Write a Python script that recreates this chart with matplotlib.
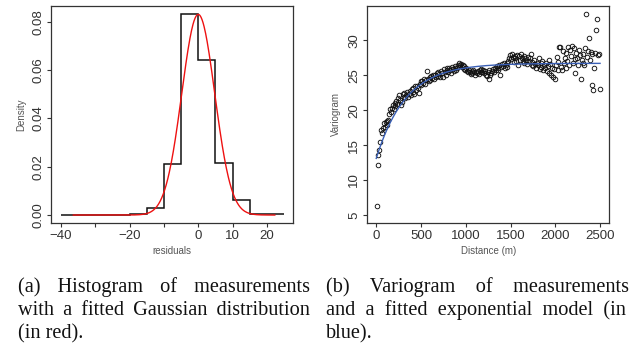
import numpy as np
import matplotlib.pyplot as plt

# --- (a) histogram of residuals, density per 5-unit bin ---
bin_edges = [-40, -35, -30, -25, -20, -15, -10, -5, 0, 5, 10, 15, 20, 25]
density = [0.0, 0.0, 0.0, 0.0, 0.0004, 0.0028, 0.0212, 0.0832,
           0.0642, 0.0215, 0.0062, 0.0003, 0.0003]

# fitted gaussian (red)
gauss_mean = 0.0
gauss_sd = 4.8
gauss_span = (-36.4, 22.3)

# --- (b) empirical variogram, one value per 10 m lag (rows of 100 m) ---
lag_step = 10
vario_rows = [
    [6.3, 12.1, 13.6, 14.3, 15.5, 17.2, 16.8, 17.4, 18.2, 17.6],
    [18.3, 18.5, 17.9, 18.6, 19.4, 20.1, 19.8, 20.3, 20.8, 20.2],
    [21.0, 20.6, 21.3, 20.9, 21.8, 22.1, 21.5, 20.8, 21.2, 22.3],
    [21.9, 22.4, 21.7, 22.1, 22.6, 21.9, 22.3, 22.8, 22.2, 23.0],
    [22.6, 23.1, 22.3, 23.4, 22.9, 23.5, 23.2, 22.4, 23.8, 24.1],
    [23.6, 24.2, 23.9, 24.4, 23.7, 24.3, 25.6, 24.5, 24.1, 24.7],
    [24.3, 24.9, 24.6, 25.0, 24.4, 25.1, 24.8, 25.3, 24.9, 25.5],
    [25.2, 24.8, 25.6, 25.3, 24.7, 25.9, 25.5, 25.1, 26.0, 25.7],
    [25.4, 26.1, 25.8, 25.3, 26.2, 25.9, 25.6, 26.3, 26.0, 25.7],
    [26.1, 26.5, 26.7, 26.4, 26.6, 26.2, 26.5, 25.9, 26.3, 25.8],
    [26.0, 25.6, 25.4, 25.8, 25.5, 25.2, 25.6, 25.3, 25.7, 25.4],
    [25.1, 25.5, 25.3, 25.6, 25.2, 25.8, 25.4, 25.9, 25.5, 25.7],
    [25.3, 25.6, 25.1, 24.9, 25.4, 25.8, 24.4, 25.0, 25.3, 25.6],
    [25.9, 25.5, 26.1, 25.8, 26.3, 26.0, 25.7, 26.4, 25.1, 26.2],
    [26.6, 26.3, 26.7, 26.0, 26.5, 26.8, 26.2, 27.1, 27.5, 27.9],
    [27.3, 28.0, 27.6, 26.9, 27.8, 27.4, 27.1, 27.9, 26.5, 27.7],
    [27.2, 28.1, 27.5, 27.0, 27.8, 26.7, 27.4, 27.1, 26.6, 27.6],
    [27.0, 27.5, 28.1, 26.5, 26.9, 26.3, 27.2, 26.6, 26.1, 26.8],
    [26.4, 27.4, 25.9, 26.7, 26.2, 27.0, 25.7, 26.5, 26.0, 26.8],
    [25.6, 26.3, 27.2, 25.3, 26.6, 25.0, 26.1, 24.8, 25.9, 24.5],
    [26.4, 27.6, 25.8, 26.9, 29.0, 29.1, 26.2, 25.7, 28.5, 26.7],
    [27.4, 26.0, 28.2, 27.1, 29.0, 26.5, 28.6, 27.8, 29.2, 26.8],
    [28.9, 27.3, 25.3, 28.2, 27.5, 26.5, 28.6, 27.9, 24.4, 27.2],
    [26.8, 28.0, 26.4, 28.9, 33.8, 27.6, 28.5, 30.3, 27.2, 28.3],
    [23.6, 28.1, 22.9, 26.1, 28.2, 31.5, 33.0, 27.9, 28.0, 23.0],
]

# fitted exponential model (blue)
exp_nugget = 13.1
exp_sill = 26.7
exp_range = 330.0
exp_span = (0, 2500)

caption_a = ["(a) Histogram of measurements",
             "with a fitted Gaussian distribution",
             "(in red)."]
caption_b = ["(b) Variogram of measurements",
             "and a fitted exponential model (in",
             "blue)."]

W, H = 631, 343
plt.rcParams['font.family'] = ['Liberation Sans', 'DejaVu Sans']
fig = plt.figure(figsize=(W / 100, H / 100), dpi=100)

frame_col = '#333333'
label_col = '#555555'


def style_axes(ax):
    for s in ax.spines.values():
        s.set_color(frame_col)
        s.set_linewidth(0.9)
    ax.tick_params(direction='out', length=3, width=0.8, colors=frame_col,
                   labelsize=9.5, pad=2)
    ax.tick_params(axis='y', labelrotation=90)
    for lab in ax.get_yticklabels():
        lab.set_va('center')


# panel (a)
ax1 = fig.add_axes([51 / W, 1 - 223 / H, 242 / W, 217 / H])
ax1.stairs(density, bin_edges, baseline=None, color='#111111', lw=1.1)
gx = np.linspace(gauss_span[0], gauss_span[1], 400)
gy = np.exp(-0.5 * ((gx - gauss_mean) / gauss_sd) ** 2) / (gauss_sd * np.sqrt(2 * np.pi))
ax1.plot(gx, gy, color='#ee1111', lw=1.0)
ax1.set_xlim(-42.9, 27.6)
ax1.set_ylim(-0.0033, 0.0866)
ax1.set_xticks([-40, -30, -20, -10, 0, 10, 20])
ax1.set_xticklabels(['\u221240', '', '\u221220', '', '0', '10', '20'])
ax1.set_yticks([0, 0.02, 0.04, 0.06, 0.08])
ax1.set_yticklabels(['0.00', '0.02', '0.04', '0.06', '0.08'])
style_axes(ax1)
ax1.set_xlabel('residuals', fontsize=7, color=label_col)
ax1.set_ylabel('Density', fontsize=7, color=label_col)
ax1.xaxis.set_label_coords(0.5, -0.107)
ax1.yaxis.set_label_coords(-0.102, 0.5)

# panel (b)
ax2 = fig.add_axes([367.3 / W, 1 - 222.7 / H, 241.7 / W, 216.7 / H])
vario = np.concatenate([np.array(r) for r in vario_rows])
dist = np.arange(len(vario)) * lag_step + lag_step / 2
ax2.plot(dist, vario, 'o', mfc='none', mec='#111111', ms=3.3, mew=0.65)
ex = np.linspace(exp_span[0], exp_span[1], 400)
ey = exp_nugget + (exp_sill - exp_nugget) * (1 - np.exp(-ex / exp_range))
ax2.plot(ex, ey, color='#3a5fb5', lw=1.0)
ax2.set_xlim(-100, 2600)
ax2.set_ylim(3.9, 34.9)
ax2.set_xticks([0, 500, 1000, 1500, 2000, 2500])
ax2.set_yticks([5, 10, 15, 20, 25, 30])
style_axes(ax2)
ax2.set_xlabel('Distance (m)', fontsize=7, color=label_col)
ax2.set_ylabel('Variogram', fontsize=7, color=label_col)
ax2.xaxis.set_label_coords(0.5, -0.107)
ax2.yaxis.set_label_coords(-0.108, 0.5)

# justified captions: one text per line, gaps padded with normal/thin/hair spaces
renderer = fig.canvas.get_renderer()
cap_font = dict(fontsize=14.6, family=['Liberation Serif', 'DejaVu Serif'], color='#111111')


def text_width(s):
    t = fig.text(0, 0, s, **cap_font)
    w = t.get_window_extent(renderer).width
    t.remove()
    return w


space_w = {c: (text_width('a' + c * 4 + 'b') - text_width('ab')) / 4
           for c in [' ', '\u2009', '\u200a']}


def gap_string(g):
    out = ''
    for c in [' ', '\u2009', '\u200a']:
        n = int(g // space_w[c]) if c != '\u200a' else int(round(g / space_w[c]))
        n = max(n, 0)
        out += c * n
        g -= n * space_w[c]
    return out


def caption(lines, x0, x1, baselines):
    for k, (line, yb) in enumerate(zip(lines, baselines)):
        words = line.split()
        if k < len(lines) - 1 and len(words) > 1:
            total = sum(text_width(w) for w in words)
            gap = (x1 - x0 - total) / (len(words) - 1)
            s = gap_string(gap).join(words)
        else:
            s = line
        fig.text(x0 / W, 1 - yb / H, s, va='baseline', ha='left', **cap_font)


caption(caption_a, 18, 310, [292, 315, 338])
caption(caption_b, 326, 630, [292, 315, 338])

fig.savefig('out.png', dpi=100)
